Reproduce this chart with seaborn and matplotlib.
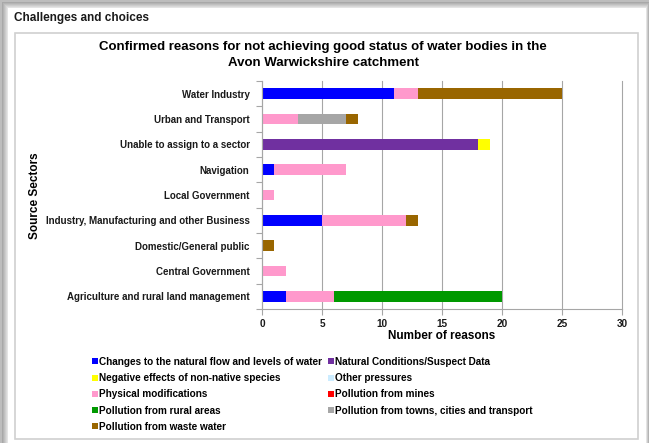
import matplotlib
matplotlib.use("Agg")
import matplotlib.pyplot as plt
from matplotlib.patches import Rectangle, Patch
from matplotlib.ticker import FixedLocator
import numpy as np
import pandas as pd
import seaborn as sns

sectors = [
    "Water Industry",
    "Urban and Transport",
    "Unable to assign to a sector",
    "Navigation",
    "Local Government",
    "Industry, Manufacturing and other Business",
    "Domestic/General public",
    "Central Government",
    "Agriculture and rural land management",
]

series_names = [
    "Changes to the natural flow and levels of water",
    "Natural Conditions/Suspect Data",
    "Negative effects of non-native species",
    "Other pressures",
    "Physical modifications",
    "Pollution from mines",
    "Pollution from rural areas",
    "Pollution from towns, cities and transport",
    "Pollution from waste water",
]

flow_levels   = [11, 0, 0, 1, 0, 5, 0, 0, 2]
natural_cond  = [0, 0, 18, 0, 0, 0, 0, 0, 0]
non_native    = [0, 0, 1, 0, 0, 0, 0, 0, 0]
other_press   = [0, 0, 0, 0, 0, 0, 0, 0, 0]
physical_mod  = [2, 3, 0, 6, 1, 7, 0, 2, 4]
mines         = [0, 0, 0, 0, 0, 0, 0, 0, 0]
rural_areas   = [0, 0, 0, 0, 0, 0, 0, 0, 14]
towns         = [0, 4, 0, 0, 0, 0, 0, 0, 0]
waste_water   = [12, 1, 0, 0, 0, 1, 1, 0, 0]

series_values = [flow_levels, natural_cond, non_native, other_press, physical_mod,
                 mines, rural_areas, towns, waste_water]
colors = ["#0000FF", "#7030A0", "#FFFF00", "#CCECFF", "#FF99CC",
          "#FF0000", "#009900", "#A6A6A6", "#996600"]
x_ticks = [0, 5, 10, 15, 20, 25, 30]

FONT = "Liberation Sans"
W, H = 649, 443
fig = plt.figure(figsize=(W / 100, H / 100), dpi=100)
fig.patch.set_facecolor("#bdbdbd")

def px_rect(x0, y0, x1, y1, **kw):
    r = Rectangle((x0 / W, 1 - y1 / H), (x1 - x0) / W, (y1 - y0) / H,
                  transform=fig.transFigure, zorder=-10, **kw)
    fig.patches.append(r)

# shadow gradient
for i, c in enumerate(["#a8a8a8", "#b4b4b4", "#c0c0c0", "#cccccc", "#d8d8d8", "#e4e4e4"]):
    px_rect(2 + i, 2 + i, 649 - i * 0.5, 443, facecolor=c, edgecolor="none")
px_rect(8, 8, 646, 443, facecolor="white", edgecolor="none")
px_rect(15, 33, 638, 439, facecolor="white", edgecolor="#d0d0d0", linewidth=1.2)

fig.text(14 / W, 1 - 18 / H, "Challenges and choices", fontsize=8.5, fontweight="bold",
         family=FONT, va="center", ha="left", color="#1a1a1a")
fig.text(323 / W, 1 - 47 / H,
         "Confirmed reasons for not achieving good status of water bodies in the",
         fontsize=9.5, fontweight="bold", family=FONT, ha="center", va="center")
fig.text(323 / W, 1 - 63 / H, "Avon Warwickshire catchment",
         fontsize=9.5, fontweight="bold", family=FONT, ha="center", va="center")

ax = fig.add_axes([262 / W, 1 - 309 / H, 360 / W, 228 / H])
ax.set_facecolor("none")

cum = np.cumsum(np.array(series_values), axis=0)
for i in reversed(range(len(series_values))):
    df = pd.DataFrame({"sector": sectors, "value": cum[i]})
    sns.barplot(data=df, x="value", y="sector", order=sectors, orient="h",
                color=colors[i], saturation=1, width=0.42, linewidth=0,
                errorbar=None, ax=ax)

ax.set_xlim(0, 30)
ax.set_ylim(8.5, -0.5)
ax.set_xticks(x_ticks)
ax.xaxis.grid(True, color="#a6a6a6", linewidth=0.8)
for gl in ax.get_xgridlines():
    gl.set_clip_on(False)
ax.set_axisbelow(True)
for s in ["top", "right"]:
    ax.spines[s].set_visible(False)
for s in ["left", "bottom"]:
    ax.spines[s].set_color("#a6a6a6")
    ax.spines[s].set_linewidth(0.8)
ax.tick_params(axis="y", which="major", length=0, pad=9)
ax.yaxis.set_minor_locator(FixedLocator(np.arange(-0.5, 9, 1.0)))
ax.tick_params(axis="y", which="minor", length=4, color="#a6a6a6", width=0.8)
ax.tick_params(axis="x", length=4, color="#a6a6a6", width=0.8, pad=3)
for lab in ax.get_yticklabels():
    lab.set_fontsize(7)
for lab in ax.get_xticklabels():
    lab.set_fontsize(7.2)
for lab in ax.get_yticklabels() + ax.get_xticklabels():
    lab.set_fontweight("bold")
    lab.set_family(FONT)
    lab.set_color("#1a1a1a")

ax.set_xlabel("Number of reasons", fontsize=8.5, fontweight="bold", family=FONT)
ax.xaxis.set_label_coords(0.5, -(336 - 309) / 228)
ax.xaxis.label.set_va("center")
ax.set_ylabel("")
fig.text(35 / W, 1 - 196 / H, "Source Sectors", rotation=90, fontsize=8.5,
         fontweight="bold", family=FONT, ha="center", va="center")

order_col1 = [0, 2, 4, 6, 8]
order_col2 = [1, 3, 5, 7]
handles = [Patch(facecolor=colors[i], edgecolor="none", label=series_names[i])
           for i in order_col1 + order_col2]
fig.legend(handles=handles, ncol=2, loc="upper left",
           bbox_to_anchor=(92 / W, 1 - 357 / H), frameon=False,
           prop={"family": FONT, "weight": "bold", "size": 7.2},
           handlelength=0.55, handleheight=0.55, handletextpad=0.15,
           columnspacing=0.6, labelspacing=0.62, borderpad=0, borderaxespad=0)

fig.savefig("out.png", dpi=100, facecolor=fig.get_facecolor())
